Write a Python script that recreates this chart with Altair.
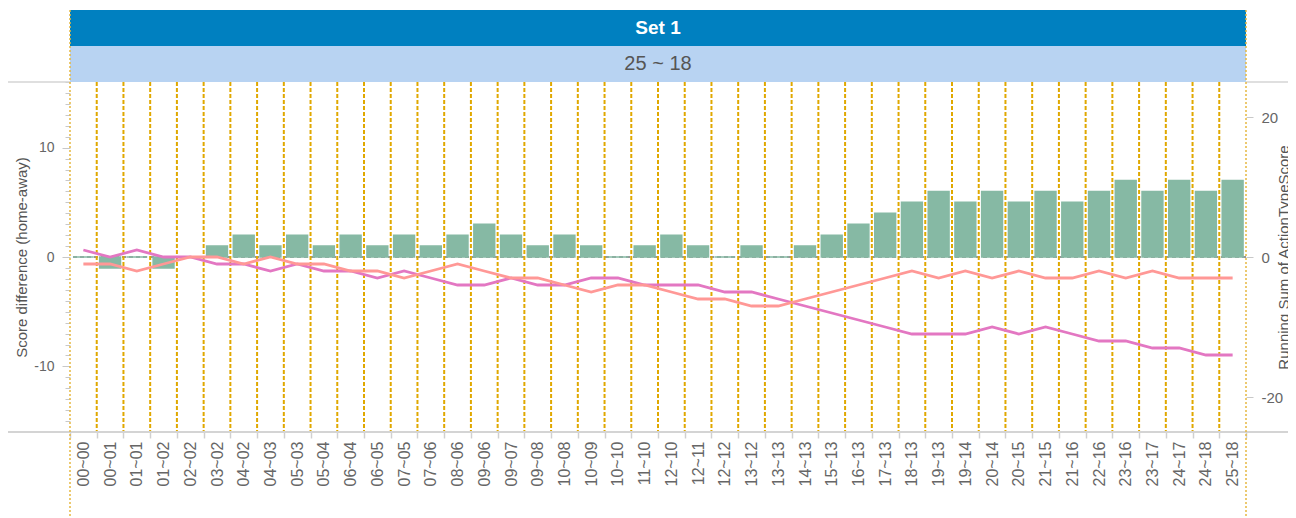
import altair as alt
import pandas as pd

# ---------------- data ----------------
categories = ["00~00", "00~01", "01~01", "01~02", "02~02", "03~02", "04~02", "04~03",
              "05~03", "05~04", "06~04", "06~05", "07~05", "07~06", "08~06", "09~06",
              "09~07", "09~08", "10~08", "10~09", "10~10", "11~10", "12~10", "12~11",
              "12~12", "13~12", "13~13", "14~13", "15~13", "16~13", "17~13", "18~13",
              "19~13", "19~14", "20~14", "20~15", "21~15", "21~16", "22~16", "23~16",
              "23~17", "24~17", "24~18", "25~18"]
score_diff = [0, -1, 0, -1, 0, 1, 2, 1, 2, 1, 2, 1, 2, 1, 2, 3, 2, 1, 2, 1, 0, 1, 2, 1,
              0, 1, 0, 1, 2, 3, 4, 5, 6, 5, 6, 5, 6, 5, 6, 7, 6, 7, 6, 7]
running_magenta = [1, 0, 1, 0, 0, -1, -1, -2, -1, -2, -2, -3, -2, -3, -4,
                   -4, -3, -4, -4, -3, -3, -4, -4, -4, -5, -5, -6, -7,
                   -8, -9, -10, -11, -11, -11, -10, -11, -10, -11, -12, -12, -13, -13, -14, -14]
running_salmon = [-1, -1, -2, -1, 0, 0, -1, 0, -1, -1, -2, -2, -3, -2, -1,
                  -2, -3, -3, -4, -5, -4, -4, -5, -6, -6, -7, -7, -6,
                  -5, -4, -3, -2, -3, -2, -3, -2, -3, -3, -2, -3, -2, -3, -3, -3]
series_names = ["Series A", "Series B"]
series_colors = ["#e377c2", "#ff9896"]
set_title = ["Set 1"]
set_score = ["25 ~ 18"]
left_minor_values = list(range(-16, 17))
right_label_values = [-20, 0, 20]

# ---------------- layout ----------------
W, H = 1176, 350
FONT = "Liberation Sans"
GOLD = "#e0a800"

bars_df = pd.DataFrame({"score": categories, "diff": score_diff})
lines_df = pd.DataFrame({
    "score": categories * 2,
    "series": [series_names[0]] * len(categories) + [series_names[1]] * len(categories),
    "running": running_magenta + running_salmon,
})
grid_df = pd.DataFrame({"score": categories[1:]})
one = pd.DataFrame({"k": [0]})

x_scale = alt.Scale(domain=categories, paddingInner=0, paddingOuter=0)
x_axis = alt.Axis(title=None, labelAngle=270, labelFontSize=16, labelColor="#666666",
                  labelFont=FONT, tickBand="extent", tickColor="#d0d0d0", tickSize=6,
                  tickWidth=1.5, domain=False, grid=False, labelPadding=3)

left_axis = alt.Axis(
    title="Score difference (home-away)", values=left_minor_values, tickCount=60,
    labelExpr="datum.value % 10 === 0 ? '' + datum.value : ''",
    tickSize={"condition": {"test": "datum.value % 10 === 0", "value": 8}, "value": 5},
    tickColor="#c8c8c8", tickWidth=1, domain=False, grid=False,
    labelFontSize=14, labelColor="#666666", labelFont=FONT, labelPadding=8,
    labelOverlap=False, titleFont=FONT, titleFontSize=15, titleFontWeight="normal",
    titleColor="#555555", titleAngle=270, titleX=-56, titleY=H / 2,
    titleBaseline="top", titleAlign="center")

zero_rule = alt.Chart(one).mark_rule(color="#777777", strokeDash=[4, 3], strokeWidth=1.5).encode(
    y=alt.datum(0))

bars = alt.Chart(bars_df).mark_bar(
    width=alt.RelativeBandSize(0.78), color="#86b9a4", stroke="#86b9a4", strokeWidth=1.5
).encode(
    x=alt.X("score:N", sort=categories, scale=x_scale, axis=x_axis),
    y=alt.Y("diff:Q", scale=alt.Scale(domain=[-16, 16], nice=False, zero=False), axis=left_axis),
)

left_group = alt.layer(zero_rule, bars)

grid = alt.Chart(grid_df).mark_rule(color=GOLD, strokeWidth=2, strokeDash=[4, 2]).encode(
    x=alt.X("score:N", sort=categories, bandPosition=0))

right_axis = alt.Axis(
    orient="right", values=right_label_values, tickCount=60, title="Running Sum of ActionTypeScore",
    labelExpr="'' + datum.value",
    tickColor="#c8c8c8", tickSize=7, domain=False, grid=False,
    labelFontSize=15, labelColor="#666666", labelFont=FONT, labelPadding=8,
    titleFont=FONT, titleFontSize=15, titleFontWeight="normal", titleColor="#555555",
    titleAngle=270, titleX=30, titleY=H / 2, titleBaseline="top", titleAlign="center")

lines = alt.Chart(lines_df).mark_line(strokeWidth=2.8).encode(
    x=alt.X("score:N", sort=categories),
    y=alt.Y("running:Q", scale=alt.Scale(domain=[-25, 25], nice=False, zero=False), axis=right_axis),
    color=alt.Color("series:N", scale=alt.Scale(domain=series_names, range=series_colors), legend=None),
)

# header bands
hdr_top = alt.Chart(pd.DataFrame({"t": set_title})).mark_rect(color="#0080c0").encode(
    x=alt.value(0), x2=alt.value(W), y=alt.value(-72), y2=alt.value(-36))
hdr_bot = alt.Chart(pd.DataFrame({"t": set_score})).mark_rect(color="#b8d3f2").encode(
    x=alt.value(0), x2=alt.value(W), y=alt.value(-36), y2=alt.value(0))
hdr_top_txt = alt.Chart(pd.DataFrame({"t": set_title})).mark_text(
    font=FONT, fontSize=19, fontWeight="bold", color="white", baseline="middle", align="center"
).encode(text="t:N", x=alt.value(W / 2), y=alt.value(-54))
hdr_bot_txt = alt.Chart(pd.DataFrame({"t": set_score})).mark_text(
    font=FONT, fontSize=20, color="#555555", baseline="middle", align="center"
).encode(text="t:N", x=alt.value(W / 2), y=alt.value(-18))

# frame lines
gray = dict(color="#d4d4d4", strokeWidth=1.5)
top_left_line = alt.Chart(one).mark_rule(**gray).encode(x=alt.value(-63), x2=alt.value(0), y=alt.value(0))
top_right_line = alt.Chart(one).mark_rule(**gray).encode(x=alt.value(W), x2=alt.value(W + 50), y=alt.value(0))
bottom_line = alt.Chart(one).mark_rule(color="#d4d4d4", strokeWidth=2).encode(
    x=alt.value(-63), x2=alt.value(W + 50), y=alt.value(H))
edge_style = dict(color="#e6b840", strokeWidth=1.5, strokeDash=[2, 2])
edge_left = alt.Chart(one).mark_rule(**edge_style).encode(x=alt.value(0), y=alt.value(-72), y2=alt.value(H + 86))
edge_right = alt.Chart(one).mark_rule(**edge_style).encode(x=alt.value(W), y=alt.value(-72), y2=alt.value(H + 86))

chart = alt.layer(
    left_group, grid, lines,
    hdr_top, hdr_bot, hdr_top_txt, hdr_bot_txt,
    top_left_line, top_right_line, bottom_line, edge_left, edge_right,
).resolve_scale(y="independent").properties(
    width=W, height=H,
    autosize=alt.AutoSizeParams(type="none"),
    padding={"left": 62, "top": 74, "right": 42, "bottom": 86},
).configure_view(stroke=None)

chart.save("out.html", embed_options={"renderer": "svg", "actions": False})
